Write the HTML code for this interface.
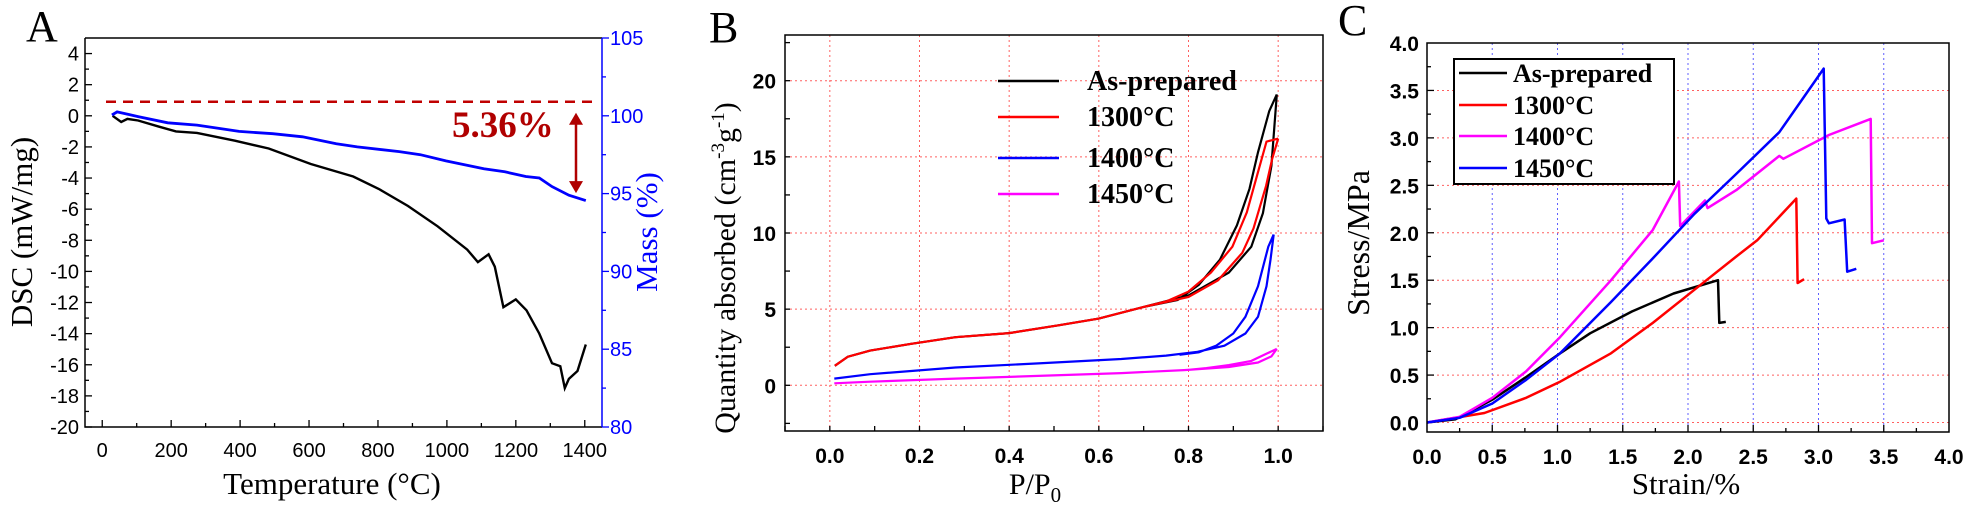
<!DOCTYPE html>
<html><head><meta charset="utf-8">
<style>
html,body{margin:0;padding:0;background:#fff;}
svg{display:block;}
.tk{font-family:"Liberation Sans",Arial,sans-serif;font-size:20px;}
.tkb{font-family:"Liberation Sans",Arial,sans-serif;font-size:21px;font-weight:bold;}
.ser{font-family:"Liberation Serif","Times New Roman",serif;}
</style></head>
<body>
<svg id="fig" width="1976" height="509" viewBox="0 0 1976 509" xmlns="http://www.w3.org/2000/svg">
<text x="26" y="41" class="ser" font-size="44">A</text>
<text x="709" y="42" class="ser" font-size="44">B</text>
<text x="1338" y="35" class="ser" font-size="44">C</text>
<g id="pa"></g>
<g id="pb"></g>
<g id="pc"></g>
</svg>
<script>
// ---------- Panel A data ----------
const dscT = [30,55,73,104,165,214,275,385,483,605,728,802,887,973,1059,1090,1121,1139,1164,1200,1231,1268,1305,1329,1342,1354,1379,1403];
const dscV = [0,-0.4,-0.2,-0.3,-0.7,-1.0,-1.1,-1.6,-2.1,-3.1,-3.9,-4.7,-5.8,-7.1,-8.6,-9.4,-8.9,-9.7,-12.3,-11.8,-12.5,-14.0,-15.9,-16.1,-17.5,-16.9,-16.4,-14.7];
const massT = [28,43,104,190,275,397,495,581,679,740,862,923,997,1107,1168,1229,1268,1305,1354,1403];
const massV = [100.05,100.25,99.95,99.55,99.4,99.0,98.85,98.65,98.2,98.0,97.7,97.5,97.1,96.6,96.4,96.1,96.0,95.45,94.9,94.55];
const aXTicks = [0,200,400,600,800,1000,1200,1400];
const aYTicks = [4,2,0,-2,-4,-6,-8,-10,-12,-14,-16,-18,-20];
const aY2Ticks = [80,85,90,95,100,105];
const massLossLabel = "5.36%";
const massRefLevel = 100.9;

// ---------- Panel B data ----------
const bSeriesNames = ["As-prepared","1300\u00B0C","1400\u00B0C","1450\u00B0C"];
const bSeriesColors = ["#000000","#ff0000","#0000ff","#ff00ff"];
const bAdsP = [
 [0.011,0.04,0.09,0.18,0.28,0.4,0.51,0.6,0.7,0.8,0.866,0.89,0.94,0.966,0.985,0.997],
 [0.011,0.04,0.09,0.18,0.28,0.4,0.51,0.6,0.7,0.8,0.866,0.92,0.945,0.973,0.987,1.0],
 [0.01,0.09,0.28,0.465,0.65,0.75,0.82,0.88,0.927,0.955,0.974,0.983,0.99],
 [0.01,0.09,0.28,0.465,0.65,0.79,0.89,0.955,0.985,0.997]
];
const bAdsQ = [
 [1.28,1.88,2.28,2.72,3.16,3.43,3.94,4.38,5.15,5.9,7.0,7.4,9.1,11.3,14.4,19.1],
 [1.28,1.88,2.28,2.72,3.16,3.43,3.94,4.38,5.15,5.8,6.9,8.7,10.3,13.1,14.9,16.2],
 [0.44,0.73,1.17,1.44,1.73,1.95,2.2,2.6,3.4,4.5,6.5,8.25,9.9],
 [0.13,0.24,0.44,0.62,0.8,1.0,1.2,1.5,1.9,2.39]
];
const bDesP = [
 [0.997,0.98,0.955,0.936,0.908,0.87,0.823,0.776,0.7],
 [1.0,0.974,0.955,0.93,0.898,0.85,0.8,0.75,0.7],
 [0.99,0.978,0.955,0.927,0.9,0.862,0.823,0.78],
 [0.997,0.976,0.94,0.89,0.84,0.8]
];
const bDesQ = [
 [19.1,18.0,15.3,12.9,10.5,8.25,6.6,5.6,5.15],
 [16.2,16.0,14.0,11.35,9.1,7.4,6.15,5.5,5.15],
 [9.9,9.1,6.5,4.5,3.4,2.6,2.17,2.0],
 [2.39,2.1,1.6,1.33,1.13,1.02]
];
const bXTicks = [0.0,0.2,0.4,0.6,0.8,1.0];
const bYTicks = [0,5,10,15,20];

// ---------- Panel C data ----------
const cSeriesNames = ["As-prepared","1300\u00B0C","1400\u00B0C","1450\u00B0C"];
const cSeriesColors = ["#000000","#ff0000","#ff00ff","#0000ff"];
const cStrain = [
 [0,0.22,0.5,0.76,1.02,1.25,1.57,1.89,2.23,2.24,2.29],
 [0,0.44,0.76,1.02,1.41,1.73,2.05,2.37,2.53,2.83,2.84,2.89],
 [0,0.25,0.5,0.76,1.02,1.41,1.73,1.93,1.94,2.13,2.15,2.37,2.7,2.73,3.08,3.4,3.41,3.5],
 [0,0.25,0.5,0.76,1.02,1.41,1.73,2.05,2.37,2.7,3.04,3.06,3.08,3.2,3.22,3.29]
];
const cStress = [
 [0,0.035,0.24,0.48,0.73,0.94,1.17,1.36,1.5,1.05,1.06],
 [0,0.1,0.26,0.43,0.73,1.05,1.4,1.75,1.92,2.36,1.47,1.51],
 [0,0.06,0.26,0.54,0.9,1.5,2.03,2.54,2.07,2.34,2.26,2.45,2.81,2.78,3.03,3.2,1.89,1.92],
 [0,0.05,0.2,0.45,0.73,1.27,1.73,2.2,2.62,3.06,3.73,2.15,2.1,2.14,1.59,1.62]
];
const cXTicks = [0.0,0.5,1.0,1.5,2.0,2.5,3.0,3.5,4.0];
const cYTicks = [0.0,0.5,1.0,1.5,2.0,2.5,3.0,3.5,4.0];

const NS = "http://www.w3.org/2000/svg";
function mk(parent, tag, attrs, text){
  const e = document.createElementNS(NS, tag);
  for (const k in attrs) e.setAttribute(k, attrs[k]);
  if (text !== undefined) e.textContent = text;
  parent.appendChild(e);
  return e;
}
function lin(d0,d1,r0,r1){ return v => r0 + (v-d0)/(d1-d0)*(r1-r0); }
function pathOf(xs, ys, sx, sy){
  return xs.map((v,i)=>(i?"L":"M")+sx(v).toFixed(1)+","+sy(ys[i]).toFixed(1)).join("");
}

// ================= Panel A =================
(function(){
  const g = document.getElementById("pa");
  const L=85,R=602,T=38,B=427;
  const sx = lin(-50,1450,L,R), sy = lin(-20,5,B,T), sy2 = lin(80,105,B,T);
  const dsc = mk(g,"path",{d:pathOf(dscT,dscV,sx,sy),fill:"none",stroke:"#000","stroke-width":2.4});
  
  
  const ms = mk(g,"path",{d:pathOf(massT,massV,sx,sy2),fill:"none",stroke:"#0000ff","stroke-width":2.8});
  
  
  const ref = mk(g,"line",{x1:106,x2:596,y1:sy2(massRefLevel),y2:sy2(massRefLevel),stroke:"#c00000","stroke-width":2.5,"stroke-dasharray":"10,7"});
  
  
  const ay1 = sy2(massRefLevel)+11, ay2 = sy2(massV[massV.length-2])-2;
  const ax = 576;
  const ar = mk(g,"g",{});
  
  
  mk(ar,"line",{x1:ax,x2:ax,y1:ay1+8,y2:ay2-8,stroke:"#b00000","stroke-width":2.5});
  mk(ar,"path",{d:`M${ax-7},${ay1+12}L${ax},${ay1}L${ax+7},${ay1+12}Z`,fill:"#b00000"});
  mk(ar,"path",{d:`M${ax-7},${ay2-12}L${ax},${ay2}L${ax+7},${ay2-12}Z`,fill:"#b00000"});
  const lbl = mk(g,"text",{x:452,y:137,"font-size":37,"font-weight":"bold",fill:"#b00000",class:"ser"},massLossLabel);
  
  
  mk(g,"path",{d:`M${L},${T}L${R},${T}`,stroke:"#000","stroke-width":1.5});
  mk(g,"path",{d:`M${L},${T}L${L},${B}L${R},${B}`,stroke:"#000","stroke-width":1.5,fill:"none"});
  mk(g,"line",{x1:R,x2:R,y1:T,y2:B,stroke:"#0000ff","stroke-width":1.5});
  for (let v=0; v<=1400; v+=100){
    mk(g,"line",{x1:sx(v),x2:sx(v),y1:B,y2:B-(v%200===0?7:4),stroke:"#000","stroke-width":1.3});
  }
  aXTicks.forEach(v=>{
    const t = mk(g,"text",{x:sx(v),y:B+30,"text-anchor":"middle",class:"tk"},String(v));
    
    
  });
  for (let v=-20; v<=4; v+=1){
    mk(g,"line",{x1:L,x2:L+(v%2===0?7:4),y1:sy(v),y2:sy(v),stroke:"#000","stroke-width":1.3});
  }
  aYTicks.forEach(v=>{
    const t = mk(g,"text",{x:L-6,y:sy(v)+7,"text-anchor":"end",class:"tk"},String(v));
    
    
  });
  for (let v=80; v<=105; v+=2.5){
    mk(g,"line",{x1:R,x2:R+(v%5===0?7:4),y1:sy2(v),y2:sy2(v),stroke:"#0000ff","stroke-width":1.3});
  }
  aY2Ticks.forEach(v=>{
    const t = mk(g,"text",{x:R+8,y:sy2(v)+7,fill:"#0000ff",class:"tk"},String(v));
    
    
  });
  const xt = mk(g,"text",{x:332,y:494,"text-anchor":"middle","font-size":31,class:"ser"},"Temperature (\u00B0C)");
  
  
  const yt = mk(g,"text",{x:0,y:0,"text-anchor":"middle","font-size":31,class:"ser",transform:"translate(32,232) rotate(-90)"},"DSC (mW/mg)");
  
  
  const y2t = mk(g,"text",{x:0,y:0,"text-anchor":"middle","font-size":31,fill:"#0000ff",class:"ser",transform:"translate(657,232) rotate(-90)"},"Mass (%)");
  
  
})();

// ================= Panel B =================
(function(){
  const g = document.getElementById("pb");
  const L=785,R=1323,T=35,B=431;
  const sx = lin(-0.1,1.1,L,R), sy = lin(-3,23,B,T);
  bXTicks.forEach(v=>{
    const l = mk(g,"line",{x1:sx(v),x2:sx(v),y1:T,y2:B,stroke:"#ff6060","stroke-width":1,"stroke-dasharray":"2,3"});
    
    
  });
  bYTicks.forEach(v=>{
    const l = mk(g,"line",{x1:L,x2:R,y1:sy(v),y2:sy(v),stroke:"#ff6060","stroke-width":1,"stroke-dasharray":"2,3"});
    
    
  });
  for (let i=0;i<bSeriesNames.length;i++){
    const p = mk(g,"path",{d:pathOf(bAdsP[i],bAdsQ[i],sx,sy)+pathOf(bDesP[i],bDesQ[i],sx,sy),fill:"none",stroke:bSeriesColors[i],"stroke-width":2.2});
    
    
  }
  mk(g,"rect",{x:L,y:T,width:R-L,height:B-T,fill:"none",stroke:"#000","stroke-width":1.5});
  for (let v=-0.1; v<=1.1001; v+=0.1){
    mk(g,"line",{x1:sx(v),x2:sx(v),y1:B,y2:B-5,stroke:"#000","stroke-width":1.3});
  }
  for (let v=-2.5; v<=22.5; v+=2.5){
    mk(g,"line",{x1:L,x2:L+5,y1:sy(v),y2:sy(v),stroke:"#000","stroke-width":1.3});
  }
  bXTicks.forEach(v=>{
    const t = mk(g,"text",{x:sx(v),y:B+32,"text-anchor":"middle",class:"tkb"},v.toFixed(1));
    
    
  });
  bYTicks.forEach(v=>{
    const t = mk(g,"text",{x:L-9,y:sy(v)+8,"text-anchor":"end",class:"tkb"},String(v));
    
    
  });
  const lg = mk(g,"g",{});
  
  
  const rows=[81,117,158,194];
  for (let i=0;i<bSeriesNames.length;i++){
    mk(lg,"line",{x1:998,x2:1059,y1:rows[i],y2:rows[i],stroke:bSeriesColors[i],"stroke-width":2.5});
    const t = mk(lg,"text",{x:1087,y:rows[i]+9,"font-size":28,"font-weight":"bold",class:"ser"},bSeriesNames[i]);
    
    
  }
  const xt = mk(g,"text",{x:1035,y:494,"text-anchor":"middle","font-size":30,class:"ser"});
  
  
  xt.innerHTML = 'P/P<tspan dy="8" font-size="21">0</tspan>';
  const yt = mk(g,"text",{x:0,y:0,"text-anchor":"middle","font-size":30,class:"ser",transform:"translate(735,268) rotate(-90)"});
  
  
  yt.innerHTML = 'Quantity absorbed (cm<tspan dy="-11" font-size="19">-3</tspan><tspan dy="11">g</tspan><tspan dy="-11" font-size="19">-1</tspan><tspan dy="11">)</tspan>';
})();

// ================= Panel C =================
(function(){
  const g = document.getElementById("pc");
  const L=1427,R=1949,T=43,B=432;
  const sx = lin(0,4,L,R), sy = lin(-0.1,4.0,B,T);
  cXTicks.forEach(v=>{
    const l = mk(g,"line",{x1:sx(v),x2:sx(v),y1:T,y2:B,stroke:"#6060ff","stroke-width":1,"stroke-dasharray":"2,3"});
    
    
  });
  cYTicks.forEach(v=>{
    const l = mk(g,"line",{x1:L,x2:R,y1:sy(v),y2:sy(v),stroke:"#ff6060","stroke-width":1,"stroke-dasharray":"2,3"});
    
    
  });
  for (let i=0;i<cSeriesNames.length;i++){
    const p = mk(g,"path",{d:pathOf(cStrain[i],cStress[i],sx,sy),fill:"none",stroke:cSeriesColors[i],"stroke-width":2.5,"stroke-linejoin":"round"});
    
    
  }
  mk(g,"rect",{x:L,y:T,width:R-L,height:B-T,fill:"none",stroke:"#000","stroke-width":1.5});
  for (let v=0.25; v<4; v+=0.25){
    mk(g,"line",{x1:sx(v),x2:sx(v),y1:B,y2:B-(Math.abs(v*2-Math.round(v*2))<0.01?7:4),stroke:"#000","stroke-width":1.3});
  }
  for (let v=0.25; v<4; v+=0.25){
    mk(g,"line",{x1:L,x2:L+(Math.abs(v*2-Math.round(v*2))<0.01?7:4),y1:sy(v),y2:sy(v),stroke:"#000","stroke-width":1.3});
  }
  cXTicks.forEach(v=>{
    const t = mk(g,"text",{x:sx(v),y:B+32,"text-anchor":"middle",class:"tkb"},v.toFixed(1));
    
    
  });
  cYTicks.forEach(v=>{
    const t = mk(g,"text",{x:L-8,y:sy(v)+8,"text-anchor":"end",class:"tkb"},v.toFixed(1));
    
    
  });
  const lg = mk(g,"g",{});
  
  
  mk(lg,"rect",{x:1454,y:59,width:220,height:125,fill:"#fff",stroke:"#000","stroke-width":2});
  const rows=[73,105,136,168];
  for (let i=0;i<cSeriesNames.length;i++){
    mk(lg,"line",{x1:1459,x2:1507,y1:rows[i],y2:rows[i],stroke:cSeriesColors[i],"stroke-width":2.5});
    const t = mk(lg,"text",{x:1513,y:rows[i]+9,"font-size":26,"font-weight":"bold",class:"ser"},cSeriesNames[i]);
    
    
  }
  const xt = mk(g,"text",{x:1686,y:494,"text-anchor":"middle","font-size":31,class:"ser"},"Strain/%");
  
  
  const yt = mk(g,"text",{x:0,y:0,"text-anchor":"middle","font-size":32,class:"ser",transform:"translate(1369,243) rotate(-90)"},"Stress/MPa");
  
  
})();
</script>
</body></html>
